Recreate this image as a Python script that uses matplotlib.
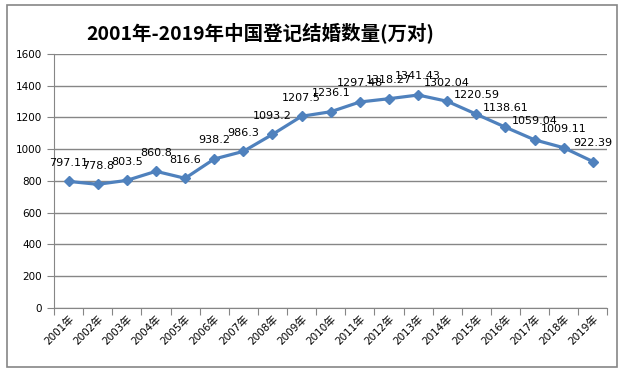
import matplotlib.pyplot as plt
from matplotlib.patches import Rectangle

plt.rcParams['font.family'] = ['DejaVu Sans', 'Noto Sans CJK SC']

years = [str(y) + '年' for y in range(2001, 2020)]
marriages = [797.11, 778.8, 803.5, 860.8, 816.6, 938.2, 986.3, 1093.2, 1207.5, 1236.1,
             1297.48, 1318.27, 1341.43, 1302.04, 1220.59, 1138.61, 1059.04, 1009.11, 922.39]
value_labels = ['797.11', '778.8', '803.5', '860.8', '816.6', '938.2', '986.3', '1093.2',
                '1207.5', '1236.1', '1297.48', '1318.27', '1341.43', '1302.04', '1220.59',
                '1138.61', '1059.04', '1009.11', '922.39']

fig = plt.figure(figsize=(6.26, 3.75), dpi=100)
ax = fig.add_axes([0.0863, 0.179, 0.884, 0.677])

x = list(range(len(years)))
ax.plot(x, marriages, color='#4F81BD', lw=2.3, marker='D', ms=5.5, zorder=3)

for i, v in enumerate(marriages):
    ax.annotate(value_labels[i], (i, v), xytext=(0, 13.5), textcoords='offset points',
                ha='center', va='center', fontsize=8, color='black')

ax.set_xlim(-0.5, len(years) - 0.5)
ax.set_ylim(0, 1600)
ax.set_yticks(range(0, 1601, 200))
ax.yaxis.grid(True, color='#868686', lw=1)
ax.set_axisbelow(True)

ax.set_xticks([i - 0.5 for i in range(len(years) + 1)])
ax.set_xticklabels([])
ax.set_xticks(x, minor=True)
ax.set_xticklabels(years, minor=True, rotation=45, ha='right', rotation_mode='anchor', fontsize=7.5)
ax.tick_params(axis='x', which='minor', length=0, pad=4)
ax.tick_params(axis='x', which='major', length=5, color='#868686')
ax.tick_params(axis='y', length=5, color='#868686', labelsize=7.5)

for s in ['top', 'right']:
    ax.spines[s].set_visible(False)
for s in ['left', 'bottom']:
    ax.spines[s].set_color('#868686')

fig.text(0.415, 0.912, '2001年-2019年中国登记结婚数量(万对)', ha='center', va='center',
         fontsize=14, fontweight='bold', family=['Noto Sans CJK SC'])

fig.patches.append(Rectangle((0.011, 0.021), 0.975, 0.966, transform=fig.transFigure,
                             fill=False, edgecolor='#868686', lw=1.2))

fig.savefig('out.png', dpi=100)
